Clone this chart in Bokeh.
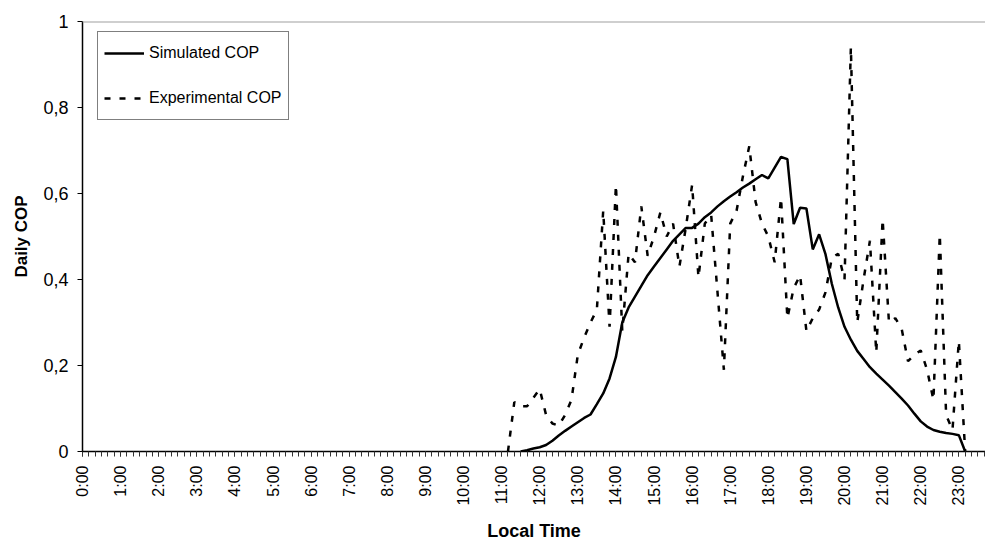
import math
from bokeh.plotting import figure
from bokeh.models import (Range1d, FixedTicker, Span, Legend, LegendItem,
                          CustomJSTickFormatter, ColumnDataSource)
from bokeh.embed import file_html
from bokeh.resources import INLINE

# 10-minute time categories from 11:10 to 23:10
times = [f"{h}:{m:02d}" for h in range(11, 24) for m in range(0, 60, 10)]
times = [t for t in times if "11:10" <= t.zfill(5) <= "23:10"]

experimental_cop = [
    0.0, 0.115, 0.105, 0.105, 0.125,                 # 11:10-11:50
    0.145, 0.085, 0.065, 0.06, 0.085, 0.12,          # 12:00-12:50
    0.225, 0.265, 0.30, 0.33, 0.56, 0.29,            # 13:00-13:50
    0.62, 0.28, 0.46, 0.44, 0.57, 0.455,             # 14:00-14:50
    0.50, 0.556, 0.50, 0.53, 0.43, 0.52,             # 15:00-15:50
    0.62, 0.405, 0.53, 0.55, 0.37, 0.19,             # 16:00-16:50
    0.53, 0.56, 0.64, 0.71, 0.58, 0.53,              # 17:00-17:50
    0.50, 0.44, 0.59, 0.31, 0.38, 0.41,              # 18:00-18:50
    0.28, 0.31, 0.33, 0.37, 0.45, 0.46,              # 19:00-19:50
    0.40, 0.94, 0.30, 0.40, 0.49, 0.23,              # 20:00-20:50
    0.54, 0.30, 0.31, 0.285, 0.21, 0.225,            # 21:00-21:50
    0.235, 0.19, 0.12, 0.505, 0.085, 0.05,           # 22:00-22:50
    0.257, 0.0,                                      # 23:00-23:10
]

simulated_cop = [
    float("nan"), float("nan"), 0.0, 0.003, 0.007,   # 11:10-11:50
    0.01, 0.015, 0.025, 0.037, 0.048, 0.058,         # 12:00-12:50
    0.068, 0.078, 0.086, 0.11, 0.135, 0.17,          # 13:00-13:50
    0.22, 0.30, 0.335, 0.36, 0.385, 0.41,            # 14:00-14:50
    0.43, 0.45, 0.47, 0.49, 0.505, 0.52,             # 15:00-15:50
    0.52, 0.53, 0.545, 0.556, 0.57, 0.582,           # 16:00-16:50
    0.593, 0.603, 0.614, 0.623, 0.633, 0.643,        # 17:00-17:50
    0.635, 0.66, 0.685, 0.68, 0.529, 0.567,          # 18:00-18:50
    0.565, 0.47, 0.505, 0.459, 0.39, 0.335,          # 19:00-19:50
    0.29, 0.26, 0.234, 0.215, 0.196, 0.181,          # 20:00-20:50
    0.167, 0.153, 0.138, 0.123, 0.107, 0.088,        # 21:00-21:50
    0.07, 0.058, 0.05, 0.046, 0.043, 0.041,          # 22:00-22:50
    0.038, 0.0,                                      # 23:00-23:10
]

hour_labels = [f"{h}:00" for h in range(24)]
y_ticks = [0, 0.2, 0.4, 0.6, 0.8, 1.0]

hours = [int(t.split(":")[0]) + int(t.split(":")[1]) / 60 for t in times]
src = ColumnDataSource(dict(x=hours, exp=experimental_cop, sim=simulated_cop))

FONT = "Liberation Sans"

p = figure(width=985, height=543, x_range=Range1d(0, 23.70), y_range=Range1d(0, 1),
           output_backend="svg", toolbar_location=None,
           min_border_left=82, min_border_right=0, min_border_top=21, min_border_bottom=92)
p.outline_line_color = None
p.xgrid.visible = False
p.ygrid.visible = False
p.background_fill_color = "white"
p.border_fill_color = "white"

p.add_layout(Span(location=1.0, dimension="width", line_color="#a0a0a0", line_width=2))

r_sim = p.line("x", "sim", source=src, line_color="black", line_width=2.5)
r_exp = p.line("x", "exp", source=src, line_color="black", line_width=2.5, line_dash="6 9")

# x axis
xa = p.xaxis[0]
xa.ticker = FixedTicker(ticks=list(range(24)), minor_ticks=[i / 6 for i in range(0, 143)])
xa.formatter = CustomJSTickFormatter(args=dict(labels=hour_labels),
                                     code="return labels[Math.round(tick)];")
xa.major_label_orientation = math.pi / 2
xa.major_label_text_font = FONT
xa.major_label_text_font_size = "16px"
xa.major_label_text_color = "black"
xa.major_label_standoff = 9
xa.major_tick_out = 5
xa.major_tick_in = 0
xa.minor_tick_out = 5
xa.minor_tick_in = 0
xa.major_tick_line_color = "#333333"
xa.minor_tick_line_color = "#333333"
xa.axis_line_color = "black"
xa.axis_line_width = 1.5
xa.axis_label = "Local Time"
xa.axis_label_text_font = FONT
xa.axis_label_text_font_style = "bold"
xa.axis_label_text_font_size = "18px"
xa.axis_label_text_color = "black"
xa.axis_label_standoff = 12

# y axis
ya = p.yaxis[0]
ya.ticker = FixedTicker(ticks=y_ticks, minor_ticks=[])
ya.formatter = CustomJSTickFormatter(code="return tick.toFixed(1).replace('.', ',').replace(',0', '');")
ya.major_label_text_font = FONT
ya.major_label_text_font_size = "18px"
ya.major_label_text_color = "black"
ya.major_label_standoff = 9
ya.major_tick_out = 5
ya.major_tick_in = 0
ya.minor_tick_out = 0
ya.major_tick_line_color = "black"
ya.axis_line_color = "black"
ya.axis_line_width = 1.5
ya.axis_label = "Daily COP"
ya.axis_label_text_font = FONT
ya.axis_label_text_font_style = "bold"
ya.axis_label_text_font_size = "17px"
ya.axis_label_text_color = "black"
ya.axis_label_standoff = 9

legend = Legend(items=[LegendItem(label="Simulated COP", renderers=[r_sim]),
                       LegendItem(label="Experimental COP", renderers=[r_exp])],
                location=(15, 331))
legend.border_line_color = "black"
legend.border_line_width = 1
legend.background_fill_color = "white"
legend.background_fill_alpha = 1
legend.label_text_font = FONT
legend.label_text_font_size = "16px"
legend.label_text_color = "black"
legend.glyph_width = 40
legend.glyph_height = 30
legend.label_height = 30
legend.padding = 6
legend.spacing = 15
legend.label_standoff = 5
legend.margin = 0
p.add_layout(legend)

open("out.html", "w").write(file_html(p, INLINE))
